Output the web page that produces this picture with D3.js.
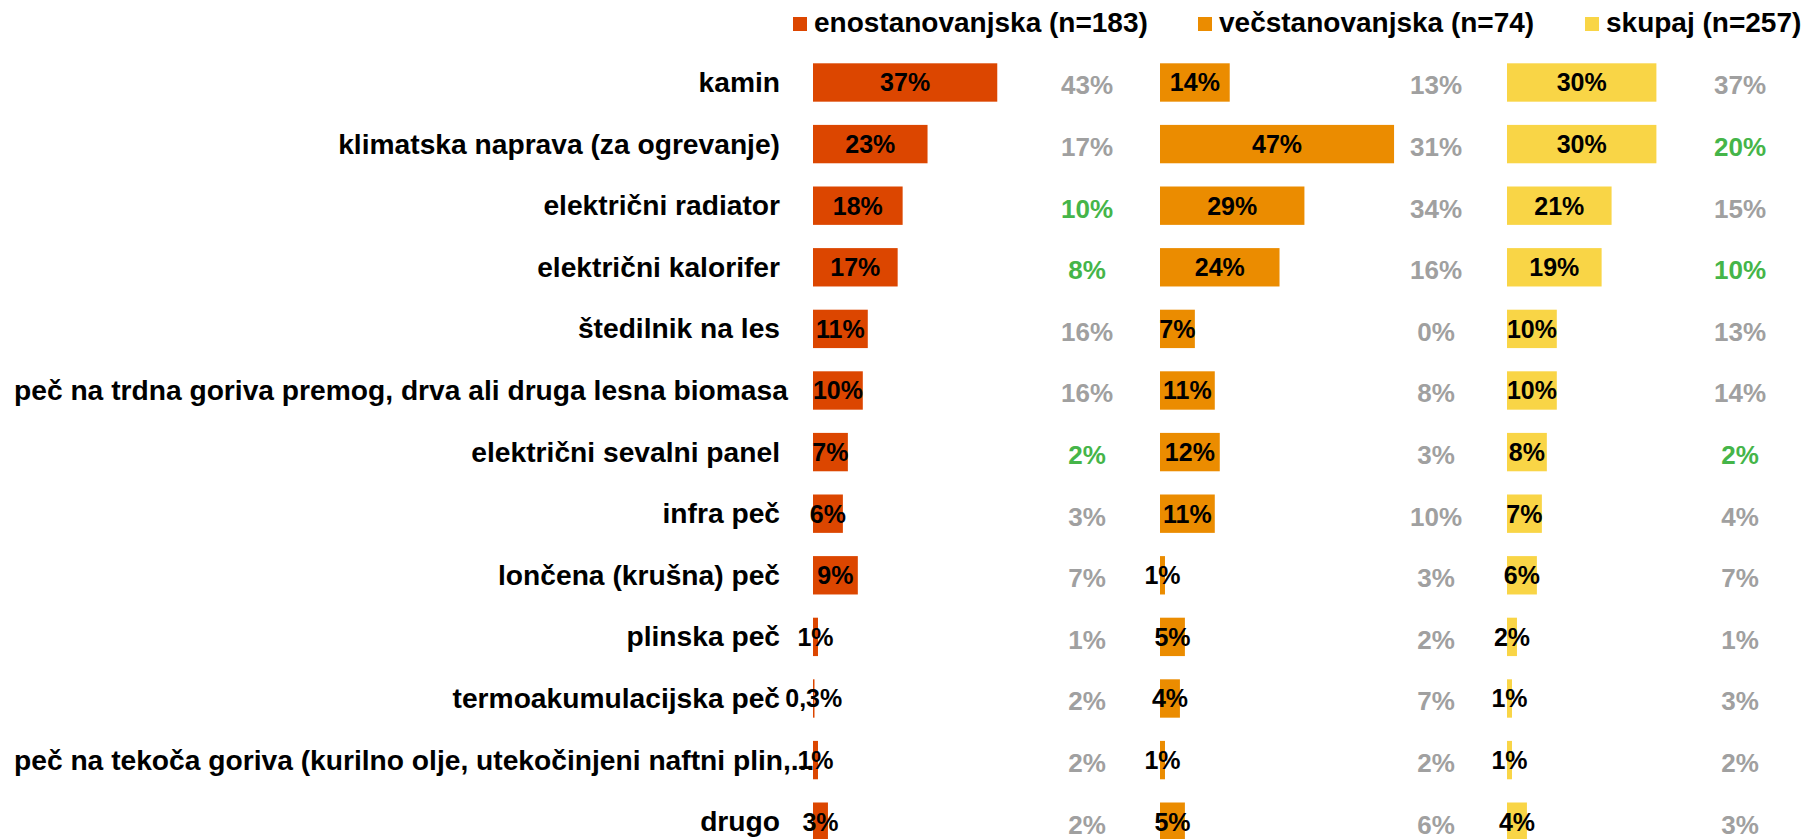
<!DOCTYPE html>
<html>
<head>
<meta charset="utf-8">
<script src="https://cdn.jsdelivr.net/npm/d3@7"></script>
<style>
  body { margin: 0; background: #fff; }
  text { font-family: "Liberation Sans", Arial, sans-serif; font-weight: bold; }
</style>
</head>
<body>
<svg></svg>
<script>
// data
const categories = [
  "kamin",
  "klimatska naprava (za ogrevanje)",
  "električni radiator",
  "električni kalorifer",
  "štedilnik na les",
  "peč na trdna goriva premog, drva ali druga lesna biomasa",
  "električni sevalni panel",
  "infra peč",
  "lončena (krušna) peč",
  "plinska peč",
  "termoakumulacijska peč",
  "peč na tekoča goriva (kurilno olje, utekočinjeni naftni plin,...",
  "drugo"
]
const seriesNames = ["enostanovanjska (n=183)", "večstanovanjska (n=74)", "skupaj (n=257)"]
const enoValues = [37, 23, 18, 17, 11, 10, 7, 6, 9, 1, 0.3, 1, 3]
const vecValues = [14, 47, 29, 24, 7, 11, 12, 11, 1, 5, 4, 1, 5]
const skupValues = [30, 30, 21, 19, 10, 10, 8, 7, 6, 2, 1, 1, 4]
// comparison values shown to the right of each column
const enoCompare = [43, 17, 10, 8, 16, 16, 2, 3, 7, 1, 2, 2, 2]
const vecCompare = [13, 31, 34, 16, 0, 8, 3, 10, 3, 2, 7, 2, 6]
const skupCompare = [37, 20, 15, 10, 13, 14, 2, 4, 7, 1, 3, 2, 3]
// which comparison values are highlighted green (row index)
const enoGreen = [2, 3, 6]
const vecGreen = []
const skupGreen = [1, 3, 6]

let width = 1808
let height = 839
const colors = ["#DC4600", "#EB8C00", "#F9D546"]
const colStart = [813, 1160, 1507]
const cmpX = [1087, 1436, 1740]
const pxPer100 = 498

const svg = d3.select('svg').attr('width', width).attr('height', height)

const fmt = (v) => (Number.isInteger(v) ? String(v) : String(v).replace('.', ',')) + '%'

const yScale = d3.scaleBand().domain(categories)
  .range([63.3, 63.3 + 61.6 * (categories.length - 0.377)])
  .paddingInner(0.377).paddingOuter(0).align(0)

const xScales = colStart.map(s => d3.scaleLinear().domain([0, 100]).range([s, s + pxPer100]))

// category labels, right aligned; labels too long start at left margin
const labelRight = 780
const labelLeft = 14
svg.append('g').selectAll('text').data(categories).enter().append('text')
  .attr('y', d => yScale(d) + yScale.bandwidth() / 2 + 9.5)
  .attr('font-size', 28.2)
  .attr('fill', '#000')
  .text(d => d)
  .each(function () {
    const t = d3.select(this)
    const w = this.getComputedTextLength()
    if (labelRight - w < labelLeft) {
      t.attr('x', labelLeft).attr('text-anchor', 'start')
    } else {
      t.attr('x', labelRight).attr('text-anchor', 'end')
    }
  })

const series = [
  {vals: enoValues, cmp: enoCompare, green: enoGreen},
  {vals: vecValues, cmp: vecCompare, green: vecGreen},
  {vals: skupValues, cmp: skupCompare, green: skupGreen}
]

series.forEach((s, i) => {
  const x = xScales[i]
  const rows = categories.map((c, j) => ({cat: c, v: s.vals[j], cmp: s.cmp[j], g: s.green.includes(j)}))
  const g = svg.append('g')
  g.selectAll('rect').data(rows).enter().append('rect')
    .attr('x', x(0))
    .attr('y', d => yScale(d.cat))
    .attr('width', d => x(d.v) - x(0))
    .attr('height', yScale.bandwidth())
    .attr('fill', colors[i])
  g.selectAll('text.val').data(rows).enter().append('text')
    .attr('class', 'val')
    .attr('x', d => (x(0) + x(d.v)) / 2)
    .attr('y', d => yScale(d.cat) + yScale.bandwidth() / 2 + 9)
    .attr('text-anchor', 'middle')
    .attr('font-size', 25)
    .attr('fill', '#000')
    .text(d => fmt(d.v))
  g.selectAll('text.cmp').data(rows).enter().append('text')
    .attr('class', 'cmp')
    .attr('x', cmpX[i])
    .attr('y', d => yScale(d.cat) + yScale.bandwidth() / 2 + 12)
    .attr('text-anchor', 'middle')
    .attr('font-size', 26)
    .attr('fill', d => d.g ? '#45B549' : '#A0A0A0')
    .text(d => fmt(d.cmp))
})

// legend
const legendX = [793, 1198, 1585]
const legend = svg.append('g').selectAll('g').data(seriesNames).enter().append('g')
  .attr('transform', (d, i) => 'translate(' + legendX[i] + ',0)')
legend.append('rect').attr('x', 0).attr('y', 17).attr('width', 14).attr('height', 14)
  .attr('fill', (d, i) => colors[i])
legend.append('text').attr('x', 21).attr('y', 31.7)
  .attr('font-size', 28).attr('fill', '#000')
  .text(d => d)
</script>
</body>
</html>
